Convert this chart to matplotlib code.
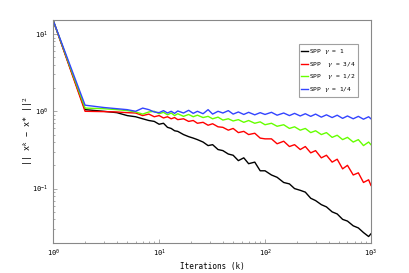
import matplotlib
matplotlib.use("Agg")
import matplotlib.pyplot as plt

# iteration numbers at which values were read
k = [1, 2, 3, 4, 5, 6, 7, 8, 9, 10, 11, 12, 13, 14, 15, 17, 19, 21, 23, 26, 29, 32, 36, 40, 45, 50,
     56, 63, 70, 80, 90, 100, 115, 130, 150, 170, 190, 215, 240, 270, 300, 340, 380, 430, 480,
     540, 600, 680, 760, 850, 950, 1000]

# ||x^k - x*||^2 for each step size exponent
err_g1 = [15, 1.05, 1.0, 0.96, 0.88, 0.85, 0.80, 0.76, 0.74, 0.68, 0.70, 0.62, 0.60, 0.56, 0.55,
          0.50, 0.47, 0.45, 0.43, 0.40, 0.36, 0.37, 0.32, 0.31, 0.28, 0.27, 0.23, 0.25, 0.21, 0.22,
          0.17, 0.17, 0.15, 0.14, 0.12, 0.115, 0.10, 0.095, 0.09, 0.075, 0.07, 0.062, 0.058, 0.050,
          0.047, 0.040, 0.038, 0.033, 0.031, 0.027, 0.024, 0.026]
err_g34 = [15, 1.0, 0.99, 0.98, 0.96, 0.95, 0.88, 0.92, 0.85, 0.88, 0.82, 0.85, 0.80, 0.83, 0.78,
           0.80, 0.74, 0.76, 0.70, 0.72, 0.66, 0.69, 0.63, 0.62, 0.57, 0.60, 0.53, 0.55, 0.50, 0.52,
           0.45, 0.44, 0.44, 0.38, 0.41, 0.35, 0.37, 0.32, 0.35, 0.29, 0.31, 0.25, 0.27, 0.22, 0.24,
           0.18, 0.20, 0.15, 0.16, 0.12, 0.13, 0.11]
err_g12 = [15, 1.1, 1.08, 1.05, 1.02, 0.98, 0.92, 0.98, 1.0, 0.93, 0.97, 0.90, 0.95, 0.88, 0.93,
           0.86, 0.91, 0.85, 0.89, 0.83, 0.86, 0.80, 0.84, 0.77, 0.80, 0.75, 0.78, 0.72, 0.76, 0.70,
           0.73, 0.67, 0.70, 0.64, 0.67, 0.60, 0.63, 0.57, 0.60, 0.53, 0.56, 0.50, 0.53, 0.46, 0.49,
           0.43, 0.46, 0.40, 0.43, 0.36, 0.40, 0.37]
err_g14 = [15, 1.2, 1.12, 1.08, 1.05, 1.0, 1.1, 1.05, 0.98, 0.96, 1.02, 0.95, 1.0, 0.94, 1.01,
           0.95, 1.03, 0.94, 1.0, 0.93, 1.05, 0.92, 1.0, 0.95, 1.02, 0.92, 0.98, 0.91, 0.97, 0.90,
           0.96, 0.91, 0.97, 0.89, 0.95, 0.88, 0.94, 0.87, 0.93, 0.86, 0.92, 0.84, 0.90, 0.83, 0.89,
           0.81, 0.87, 0.80, 0.86, 0.79, 0.85, 0.80]

labels = ["SPP $\\gamma$ = 1", "SPP  $\\gamma$ = 3/4", "SPP  $\\gamma$ = 1/2", "SPP $\\gamma$ = 1/4"]
colors = ["#000000", "#ff0000", "#66ff00", "#3344ff"]

plt.rcParams['font.family'] = 'DejaVu Sans Mono'
plt.rcParams['mathtext.fontset'] = 'dejavuserif'

fig = plt.figure(figsize=(4.09, 2.73), dpi=100)
ax = fig.add_axes([0.130, 0.110, 0.777, 0.817])

for ys, lab, c in zip([err_g1, err_g34, err_g12, err_g14], labels, colors):
    ax.plot(k, ys, color=c, lw=1.0, label=lab)

ax.set_xscale('log')
ax.set_yscale('log')
ax.set_xlim(1, 1000)
ax.set_ylim(0.0198, 15.2)

for s in ax.spines.values():
    s.set_color('#888888')
    s.set_linewidth(0.8)
ax.tick_params(which='both', direction='in', colors='#888888', labelcolor='black',
               labelsize=5, width=0.5)
ax.tick_params(which='major', length=3)
ax.tick_params(which='minor', length=1.5)

ax.set_xlabel('Iterations (k)', fontsize=5.5, labelpad=2)
ax.set_ylabel('|| x$^k$ \u2212 x* ||$^2$', fontsize=6, labelpad=-1)

leg = ax.legend(loc='upper right', bbox_to_anchor=(0.96, 0.89), fontsize=4.5,
                frameon=True, fancybox=False, handlelength=1.1, handletextpad=0.1,
                borderpad=0.4, labelspacing=0.6, borderaxespad=0)
leg.get_frame().set_edgecolor('#888888')
leg.get_frame().set_linewidth(0.8)

fig.savefig('out.png', dpi=100)
